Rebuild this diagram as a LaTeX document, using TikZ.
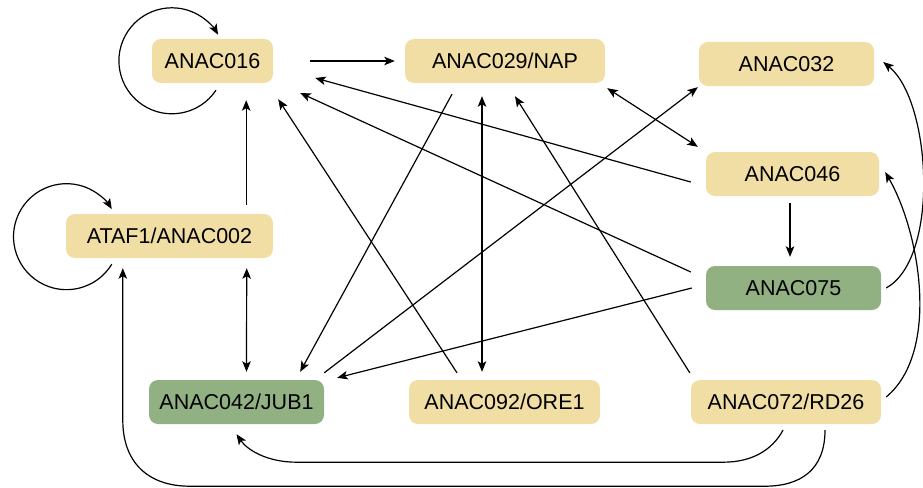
\documentclass[tikz,border=0pt]{standalone}
\usepackage{fontspec}
\setmainfont{Liberation Sans}
\usetikzlibrary{arrows.meta,calc}
\definecolor{beige}{RGB}{240,222,165}
\definecolor{leaf}{RGB}{146,177,131}
\begin{document}
\begin{tikzpicture}[x=1pt,y=-1pt,
  >={Stealth[length=10.5pt,width=8.5pt,inset=2.5pt]},
  gene/.style={rounded corners=9pt, minimum height=44pt, inner sep=0pt,
    font=\fontsize{21.5}{24}\selectfont, text=black},
  yel/.style={gene, fill=beige},
  grn/.style={gene, fill=leaf},
  conn/.style={line width=1.2pt}]
\useasboundingbox (0,0) rectangle (923,487);

\node[yel, minimum width=121pt] (n016) at (212.5,61) {ANAC016};
\node[yel, minimum width=200pt] (nap) at (505,61) {ANAC029/NAP};
\node[yel, minimum width=175pt] (n032) at (786.5,64) {ANAC032};
\node[yel, minimum width=173pt] (n046) at (792.5,174) {ANAC046};
\node[grn, minimum width=175pt] (n075) at (793.5,288) {ANAC075};
\node[yel, minimum width=190pt] (rd26) at (786,402) {ANAC072/RD26};
\node[grn, minimum width=175pt] (jub1) at (236.5,402) {ANAC042/JUB1};
\node[yel, minimum width=191pt] (ore1) at (504.5,402) {ANAC092/ORE1};
\node[yel, minimum width=207pt] (ataf1) at (169.5,236) {ATAF1/ANAC002};

% self loops
\draw[conn,->] ($(n016.south)+(3.5,7)$) arc[start angle=-33.7, end angle=-330.5, radius=53pt];
\draw[conn,->] ($(ataf1.south west)+(46,6)$) arc[start angle=-31.3, end angle=-328.7, radius=53pt];

% straight connectors
\draw[conn,->] ($(n016.east)+(37,0)$) -- ($(nap.west)+(-10,0)$);
\draw[conn,->] ($(ataf1.north east)+(-27,-9)$) -- ($(n016.south east)+(-27,17)$);
\draw[conn,<->] ($(ataf1.south east)+(-26.5,10)$) -- ($(jub1.north)+(10,-8)$);
\draw[conn,->] ($(nap.south)+(-53,11)$) -- ($(jub1.north east)+(-24,-8)$);
\draw[conn,->] ($(ore1.north)+(-47.5,-7)$) -- ($(n016.south east)+(5,16)$);
\draw[conn,->] ($(jub1.north east)+(0,-7)$) -- ($(n032.south west)+(-1,1)$);
\draw[conn,->] ($(n075.west)+(-14,0)$) -- ($(jub1.north east)+(13,-2)$);
\draw[conn,->] ($(n075.west)+(-15,-16)$) -- ($(n016.east)+(27,32)$);
\draw[conn,->] ($(n046.west)+(-15,8)$) -- ($(n016.east)+(42,17)$);
\draw[conn,<->] ($(nap.south east)+(2,5)$) -- ($(n046.north west)+(-8,-5)$);
\draw[conn,->] ($(n046.south)+(-2.5,7)$) -- ($(n075.north)+(-3.5,-9)$);
\draw[conn,<->] ($(nap.south)+(-23,13)$) -- ($(ore1.north)+(-22.5,-8)$);
\draw[conn,->] ($(rd26.north west)+(-1,-7)$) -- ($(nap.south)+(10,13)$);

% curved connectors on the right
\draw[conn,->] ($(n075.east)+(5,0)$) .. controls +(54,-30) and +(48,39) .. ($(n032.east)+(9,-2)$);
\draw[conn,->] ($(rd26.east)+(5,-5)$) .. controls +(54,-45) and +(35,61) .. ($(n046.east)+(6,-2)$);

% curved connectors at the bottom
\draw[conn,->] ($(rd26.south)+(-3,6)$) .. controls +(-11,20) and +(29,0) .. ($(rd26.south)+(-63,38)$)
  -- ($(jub1.south)+(60,38)$) .. controls +(-29,0) and +(11,16) .. ($(jub1.south)+(0,10)$);
\draw[conn,->] ($(rd26.south)+(39,6)$) .. controls +(0,40) and +(35,0) .. ($(rd26.south)+(-21,62)$)
  -- ($(ataf1.south west)+(124,228)$) .. controls +(-42,0) and +(0,42) .. ($(ataf1.south west)+(57,162)$)
  -- ($(ataf1.south west)+(57,10)$);
\end{tikzpicture}
\end{document}
